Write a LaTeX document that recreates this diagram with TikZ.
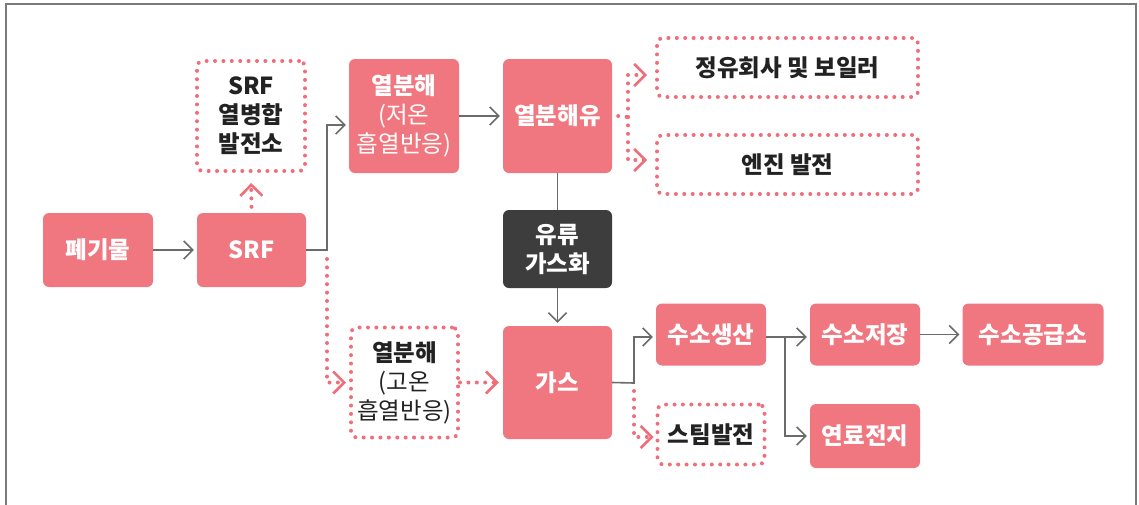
\documentclass[tikz,border=0pt]{standalone}
\usepackage{fontspec}
\setmainfont{Noto Sans CJK KR}
\usetikzlibrary{arrows.meta}
\definecolor{pk}{HTML}{F0777F}
\definecolor{pkd}{HTML}{F06E7A}
\definecolor{dk}{HTML}{3D3D3D}
\definecolor{gl}{HTML}{6B6B6B}
\definecolor{fr}{HTML}{7A7A7A}
\definecolor{tx}{HTML}{222222}
\begin{document}
\begin{tikzpicture}[x=1pt,y=-1pt,
  base/.style={rounded corners=6pt, align=center, inner sep=0pt, font=\fontsize{23.5pt}{29pt}\selectfont\bfseries},
  pbox/.style={base, fill=pk, text=white},
  kbox/.style={base, fill=dk, text=white},
  obox/.style={base, draw=pkd, text=tx, line width=4pt, line cap=round, dash pattern=on 0pt off 8.4pt},
  gline/.style={draw=gl, line width=1.6pt},
  garrow/.style={gline, -{Straight Barb[length=9pt,width=18pt,line width=1.6pt]}, shorten >=3pt},
  pdot/.style={draw=pkd, line width=4pt, line cap=round, dash pattern=on 0pt off 8.4pt},
  parrow/.style={pdot, -{Straight Barb[length=11pt,width=22pt,line width=2.6pt,color=pkd]}}
]
\useasboundingbox (0,0) rectangle (1139,504);
\draw[draw=fr, line width=1.5pt] (6,512) -- (6,4) -- (1136,4) -- (1136,512);

% nodes
\node[pbox, minimum width=110pt, minimum height=74pt] (waste) at (98,250) {폐기물};
\node[pbox, minimum width=109pt, minimum height=74pt] (srf) at (251.5,250) {SRF};
\node[obox, minimum width=108pt, minimum height=110pt] (chp) at (251,116) {SRF\\열병합\\발전소};
\node[pbox, minimum width=110pt, minimum height=114pt] (pyL) at (404,116) {열분해\\{\mdseries(저온}\\{\mdseries 흡열반응)}};
\node[pbox, minimum width=109pt, minimum height=114pt] (oil) at (557.5,116) {열분해유};
\node[kbox, minimum width=109pt, minimum height=78pt] (gasif) at (557.5,249) {유류\\가스화};
\node[pbox, minimum width=109pt, minimum height=113pt] (gas) at (557.5,382.5) {가스};
\node[obox, minimum width=107pt, minimum height=110pt] (pyH) at (404.5,382.5) {열분해\\{\mdseries(고온}\\{\mdseries 흡열반응)}};
\node[obox, minimum width=261pt, minimum height=59pt] (refin) at (787.5,67.5) {정유회사 및 보일러};
\node[obox, minimum width=261pt, minimum height=59pt] (engine) at (787.5,164.5) {엔진 발전};
\node[pbox, minimum width=110pt, minimum height=62pt] (h2p) at (711,334.5) {수소생산};
\node[pbox, minimum width=110pt, minimum height=62pt] (h2s) at (865,334.5) {수소저장};
\node[pbox, minimum width=141pt, minimum height=62pt] (h2u) at (1033,334.5) {수소공급소};
\node[pbox, minimum width=110pt, minimum height=64pt] (fuel) at (865,436) {연료전지};
\node[obox, minimum width=107pt, minimum height=60pt] (steam) at (711,434.5) {스팀발전};

% branch points
\coordinate (sb) at (327,250);
\coordinate (ob) at (628,117);
\coordinate (gb) at (634,383);
\coordinate (hb) at (785,337);

% solid connectors
\draw[garrow] (waste) -- (srf);
\draw[garrow] (srf.east) -- (sb) |- ([yshift=-9pt]pyL.west);
\draw[garrow] (pyL.east) -- (oil.west);
\draw[gline] (oil.south) -- (gasif.north);
\draw[garrow] (gasif.south) -- (gas.north);
\draw[garrow] (gas.east) -- (gb) |- ([yshift=-2.5pt]h2p.west);
\draw[garrow] (h2p.east |- hb) -- ([yshift=-2.5pt]h2s.west);
\draw[garrow] (hb) |- (fuel.west);
\draw[garrow] (h2s.east) -- (h2u.west);

% dotted connectors
\draw[parrow, shorten >=10pt] ([yshift=6pt]srf.north) -- (chp.south);
\draw[parrow, shorten >=3pt] ([yshift=-9pt]sb) |- (pyH.west);
\draw[parrow, shorten >=4pt] (pyH.east) -- (gas.west);
\draw[pdot] ([xshift=6pt]oil.east) -- (ob);
\draw[parrow, shorten >=8pt] (ob) |- ([yshift=-7.5pt]refin.west);
\draw[parrow, shorten >=8pt] (ob) |- ([yshift=4.5pt]engine.west);
\draw[parrow, shorten >=2pt] ([yshift=-8pt]gb) |- ([yshift=-2.5pt]steam.west);
\end{tikzpicture}
\end{document}
